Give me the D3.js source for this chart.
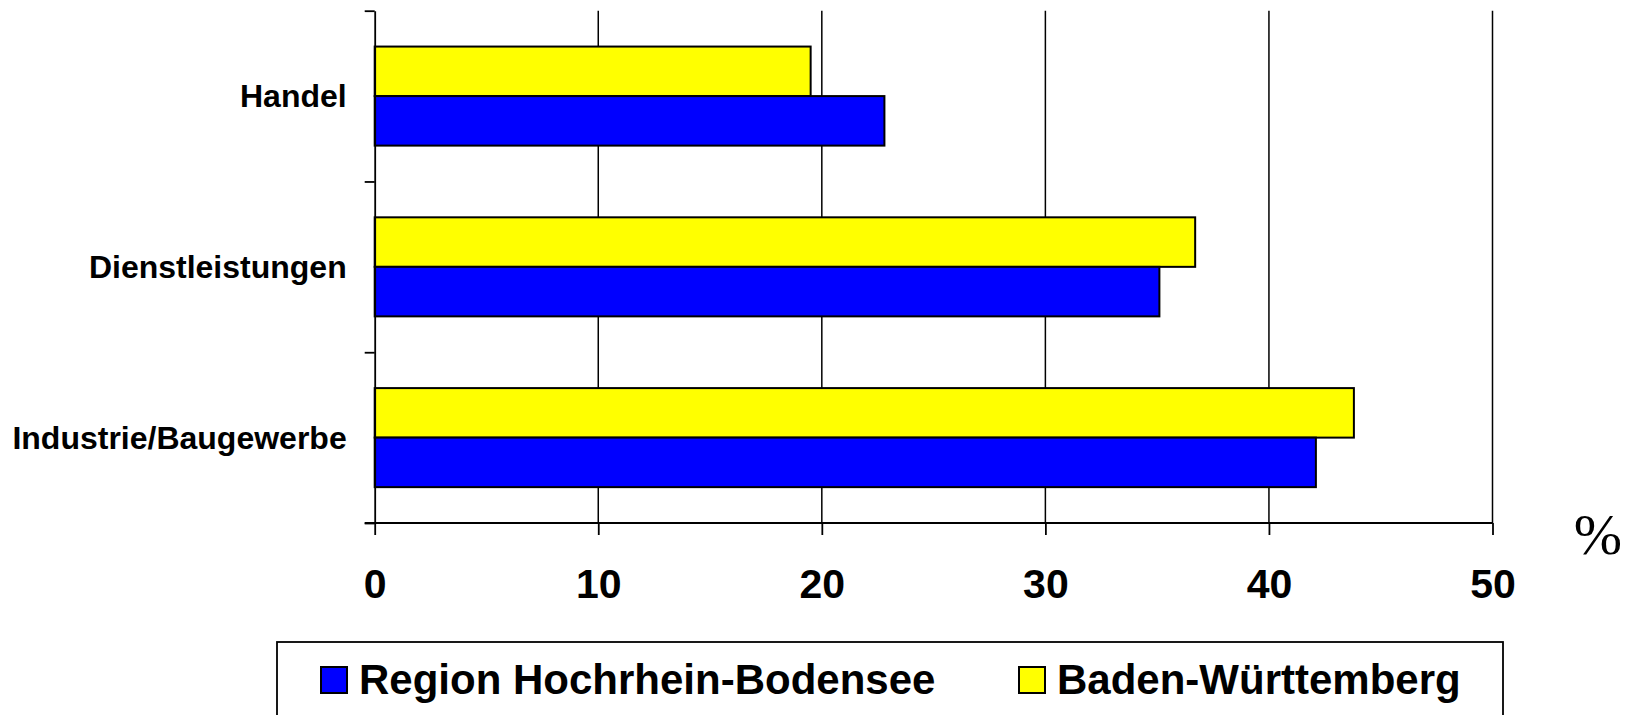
<!DOCTYPE html>
<html>
<head>
  <meta charset="utf-8">
  <title>Beschaeftigte nach Sektoren</title>
  <style>
    body { margin: 0; background: #fff; }
    svg { display: block; }
  </style>
</head>
<body>
  <div id="chart"></div>
  <script src="https://d3js.org/d3.v7.min.js"></script>
  <script>
  // Werte in Prozent, von oben nach unten
  var categories = ["Handel", "Dienstleistungen", "Industrie/Baugewerbe"];
  var seriesNames = ["Region Hochrhein-Bodensee", "Baden-Württemberg"];
  var regionValues = [22.8, 35.1, 42.1];
  var bwValues = [19.5, 36.7, 43.8];
  var xTicks = [0, 10, 20, 30, 40, 50];
  var seriesColors = ["#0000ff", "#ffff00"];

  (function(){
  var w = 1632, h = 715;
  var pLeft = 374.7, pRight = 1492.5, pTop = 10.7, pBottom = 523;

  var svg = d3.select("#chart").append("svg")
    .attr("width", w)
    .attr("height", h);

  var x = d3.scaleLinear().domain([0, 50]).range([pLeft, pRight]);
  var y = d3.scaleBand().domain(categories).range([pTop, pBottom])
    .paddingInner(0.42).paddingOuter(0.21);
  // BW oben, Region unten
  var ySub = d3.scaleBand().domain(["bw", "region"]).range([0, y.bandwidth()]);
  var yEdge = d3.scaleLinear().domain([0, categories.length]).range([pTop, pBottom]);

  // Gitterlinien
  svg.append("g")
    .selectAll("line")
    .data(xTicks.slice(1))
    .enter()
    .append("line")
    .attr("x1", function(d){ return x(d); })
    .attr("x2", function(d){ return x(d); })
    .attr("y1", pTop)
    .attr("y2", pBottom)
    .attr("stroke", "#000")
    .attr("stroke-width", 1.5);

  // Balken
  var rows = categories.map(function(c, i){
    return [{cat: c, key: "bw", value: bwValues[i], color: seriesColors[1]},
            {cat: c, key: "region", value: regionValues[i], color: seriesColors[0]}];
  });
  var bars = [].concat.apply([], rows);
  svg.append("g")
    .selectAll("rect")
    .data(bars)
    .enter()
    .append("rect")
    .attr("x", x(0))
    .attr("y", function(d){ return y(d.cat) + ySub(d.key); })
    .attr("width", function(d){ return x(d.value) - x(0); })
    .attr("height", ySub.bandwidth())
    .attr("fill", function(d){ return d.color; })
    .attr("stroke", "#000")
    .attr("stroke-width", 2);

  // y-Achse mit Trennstrichen zwischen den Kategorien
  var yAxis = d3.axisLeft(yEdge).tickValues([0, 1, 2, 3]).tickFormat("").tickSize(10).tickSizeOuter(0);
  svg.append("g")
    .attr("transform", "translate(" + pLeft + ",0)")
    .call(yAxis)
    .call(function(g){
      g.selectAll("line, path").attr("stroke", "#000").attr("stroke-width", 1.8);
    });

  // Kategoriebeschriftung
  svg.append("g")
    .selectAll("text")
    .data(categories)
    .enter()
    .append("text")
    .attr("x", 346.7)
    .attr("y", function(d){ return y(d) + y.bandwidth() / 2; })
    .attr("dy", "0.35em")
    .attr("text-anchor", "end")
    .attr("font-family", "Liberation Sans, Arial, sans-serif")
    .attr("font-weight", "bold")
    .attr("font-size", "32px")
    .text(function(d){ return d; });

  // x-Achse
  var xAxis = d3.axisBottom(x).tickValues(xTicks).tickSize(12).tickSizeOuter(0).tickPadding(34);
  svg.append("g")
    .attr("transform", "translate(0," + pBottom + ")")
    .call(xAxis)
    .call(function(g){
      g.select(".domain").attr("stroke", "#000").attr("stroke-width", 1.8)
        .attr("d", "M" + (pLeft - 10) + ",0H" + pRight);
      g.selectAll(".tick line").attr("stroke", "#000").attr("stroke-width", 1.8);
      g.selectAll(".tick text")
        .attr("fill", "#000")
        .attr("font-family", "Liberation Sans, Arial, sans-serif")
        .attr("font-weight", "bold")
        .attr("font-size", "41px");
    });

  svg.append("text")
    .attr("x", 1598)
    .attr("y", 554)
    .attr("text-anchor", "middle")
    .attr("font-family", "Liberation Serif, Times New Roman, serif")
    .attr("font-size", "58px")
    .text("%");

  // Legende
  var legend = svg.append("g");
  legend.append("rect")
    .attr("x", 277).attr("y", 642)
    .attr("width", 1503 - 277).attr("height", 100)
    .attr("fill", "#fff")
    .attr("stroke", "#000")
    .attr("stroke-width", 1.8);
  var legendX = [321, 1019];
  var legendItems = [{name: seriesNames[0], color: seriesColors[0]},
                     {name: seriesNames[1], color: seriesColors[1]}];
  legendItems.forEach(function(d, i){
    legend.append("rect")
      .attr("x", legendX[i]).attr("y", 667)
      .attr("width", 26).attr("height", 26)
      .attr("fill", d.color)
      .attr("stroke", "#000")
      .attr("stroke-width", 2);
    legend.append("text")
      .attr("x", legendX[i] + 38)
      .attr("y", 694)
      .attr("font-family", "Liberation Sans, Arial, sans-serif")
      .attr("font-weight", "bold")
      .attr("font-size", "42px")
      .text(d.name);
  });
  })();
  </script>
</body>
</html>
